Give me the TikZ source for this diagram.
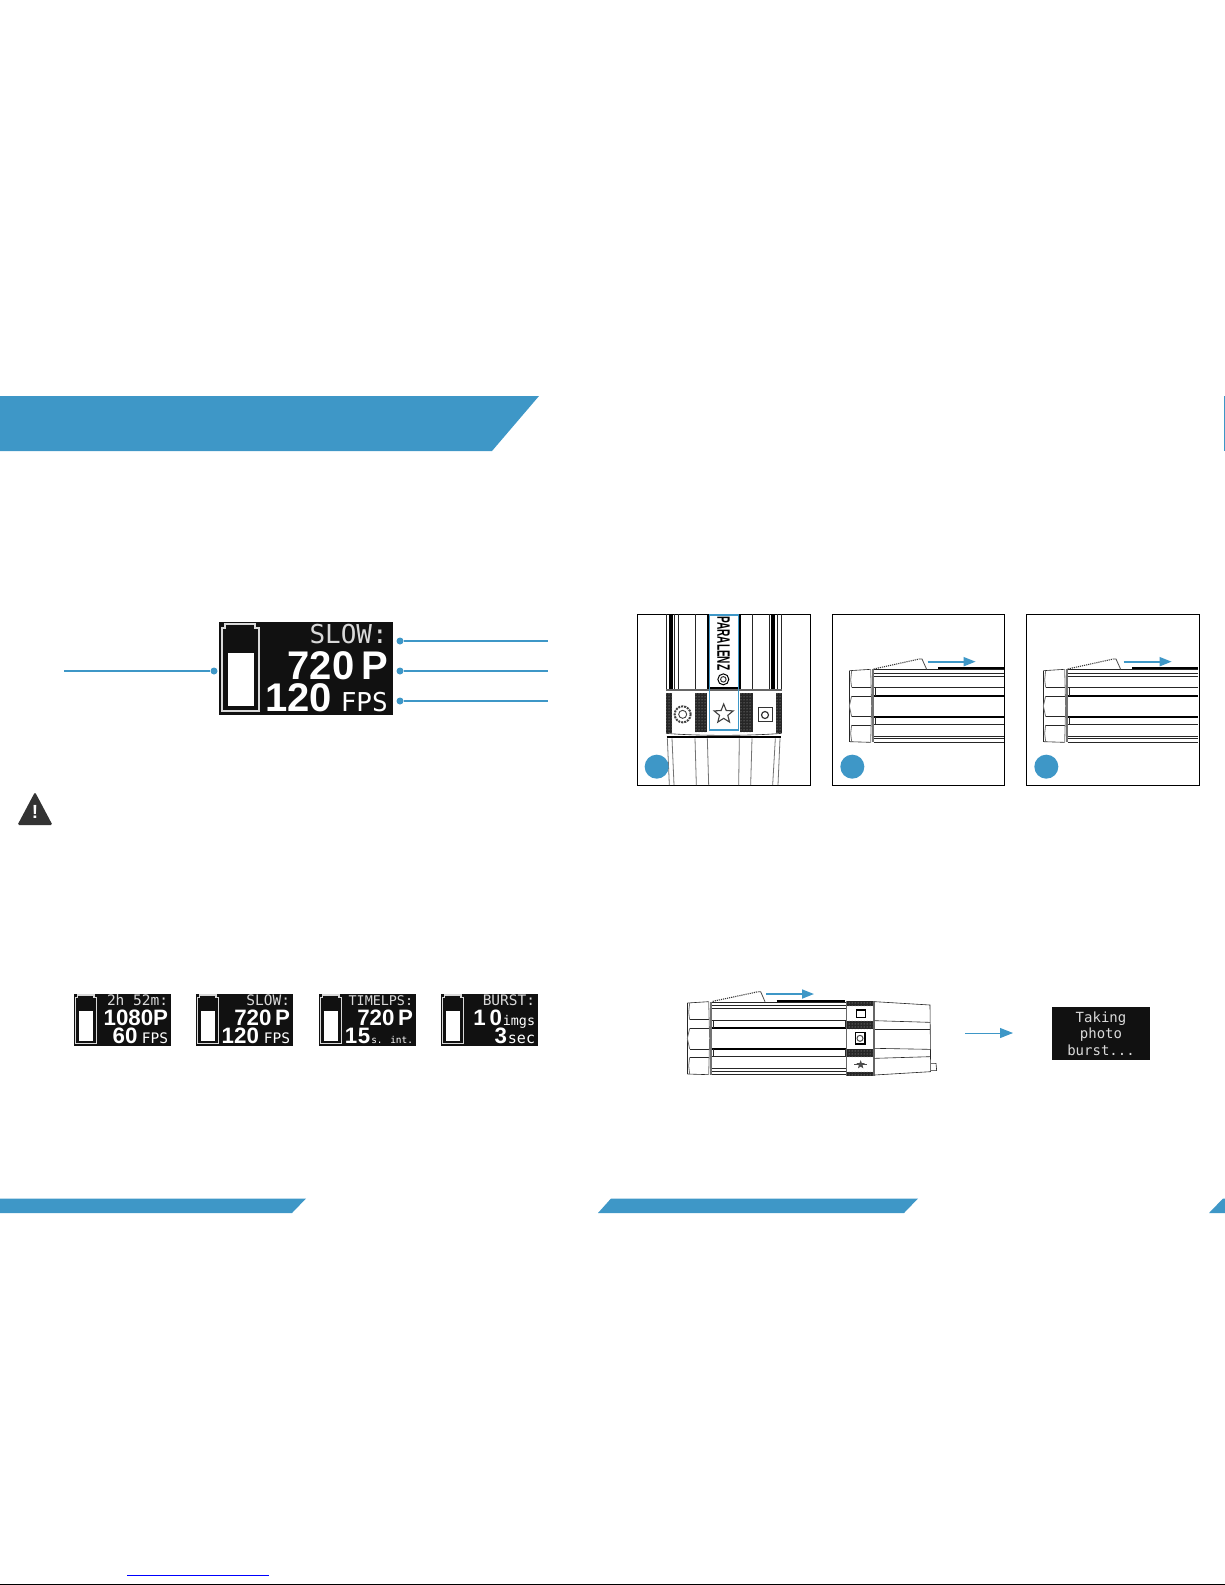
\documentclass[tikz,border=0pt]{standalone}
\usepackage{fontspec}
\usepackage{tikz}
\usetikzlibrary{arrows.meta, patterns, shapes.geometric}
\setmainfont{Liberation Sans}
\newfontfamily\lcdbold{Liberation Sans}[BoldFont=* Bold]
\newfontfamily\lcdmono{DejaVu Sans Mono}
\definecolor{bandblue}{HTML}{3E97C7}
\definecolor{lcdblack}{HTML}{111111}
\tikzset{
  band/.style={fill=bandblue, draw=none},
  leader/.style={draw=bandblue, line width=1.2pt},
  leaderdot/.style={circle, fill=bandblue, inner sep=0pt, minimum size=7pt},
  flow/.style={draw=bandblue, line width=1pt, -{Triangle[length=13pt, width=10pt]}},
  slideflow/.style={draw=bandblue, line width=1.7pt, -{Triangle[length=12pt, width=9pt]}},
  panel/.style={draw=black, line width=1pt, fill=white},
  stepdot/.style={circle, fill=bandblue, inner sep=0pt, minimum size=24pt},
  hair/.style={draw=black!85, line width=0.6pt},
  greyhair/.style={draw=black!55, line width=0.8pt},
  heavy/.style={draw=black, line width=1.8pt},
  knurl/.style={fill=black!85, postaction={pattern=dots, pattern color=white!70!black}},
  lcdbox/.style={fill=lcdblack, draw=none},
  lcdtext/.style={text=white, inner sep=0pt, anchor=base east, text depth=0pt},
}
\newcommand{\bigtxt}[1]{{\lcdbold\bfseries\fontsize{40}{40}\selectfont #1}}
\newcommand{\thintxt}[1]{{\lcdmono\fontsize{26}{26}\selectfont #1}}
% screen: name, x, y, scale, top line, middle line, bottom line
\newcommand{\lcdscreen}[7]{
  \begin{scope}[shift={(#2,#3)}, scale=#4, transform shape]
    \fill[lcdbox] (0,0) rectangle (174,93);
    \draw[white!85!black, line width=1.3pt] (3,89) -- (3,6) -- (6,6) -- (6,2) -- (36,2) -- (36,6) -- (40,6) -- (40,89) -- cycle;
    \fill[white] (8.5,31) rectangle (34.5,84);
    \node[lcdtext, text=white!85!black] (#1top) at (169,21) {\thintxt{#5}};
    \node[lcdtext] (#1mid) at (169,57) {#6};
    \node[lcdtext] (#1low) at (169,89) {#7};
  \end{scope}
}
% screw cap of the camera, in 3x crop units
\newcommand{\capend}{
  \draw[hair] (658,212) -- (722,208);
  \draw[hair] (658,425) -- (722,427);
  \draw[hair] (658,212) -- (658,425);
  \draw[greyhair] (665,212) -- (662,240) -- (665,262);
  \draw[greyhair] (665,288) -- (658,318) -- (665,350);
  \draw[greyhair] (665,375) -- (662,400) -- (665,425);
  \draw[hair] (665,262) -- (722,262);
  \draw[hair] (665,288) -- (722,288);
  \draw[hair] (665,350) -- (722,350);
  \draw[hair] (665,375) -- (722,375);
  \draw[greyhair] (722,208) -- (725,318) -- (722,427);
  \draw[black!55, line width=1.2pt] (729,208) -- (729,427);
}
% side view of the camera, in 3x crop units
\newcommand{\sidebody}{
  \capend
  \foreach \yy in {208,220,228,262,373,408,415,427} {
    \draw[hair] (731,\yy) -- (1122,\yy);
  }
  \draw[heavy] (731,287) -- (1122,287);
  \draw[heavy] (731,350) -- (1122,350);
  \draw[hair] (735,262) -- (735,287);
  \draw[hair] (735,350) -- (735,373);
  \draw[black!80, line width=1.1pt, densely dotted] (731,207) -- (868,177);
  \draw[black!70, line width=0.8pt] (868,177) -- (876,177) -- (890,208);
  \draw[heavy] (925,205) -- (1122,205);
}
\begin{document}
\begin{tikzpicture}[x=1pt, y=-1pt]
  \useasboundingbox (0,0) rectangle (1225,1585);
  % page bands
  \fill[band] (0,396) -- (539,396) -- (492,451) -- (0,451) -- cycle;
  \fill[band] (0,1198.5) -- (306,1198.5) -- (292,1213) -- (0,1213) -- cycle;
  \fill[band] (611,1198.5) -- (918,1198.5) -- (904,1213) -- (598,1213) -- cycle;
  \fill[band] (1223,1198.5) -- (1225,1198.5) -- (1225,1213) -- (1209,1213) -- cycle;
  \draw[draw=bandblue, line width=1pt] (1224.5,396) -- (1224.5,451);
  % status screen and leaders
  \lcdscreen{main}{219}{622}{1}{SLOW:}{\bigtxt{720\,P}}{\bigtxt{120}\kern9pt\thintxt{FPS}}
  \node[leaderdot] (dotbatt) at (214,671) {};
  \node[leaderdot] (dotmode) at (400,641) {};
  \node[leaderdot] (dotres) at (400,671) {};
  \node[leaderdot] (dotfps) at (400,701) {};
  \coordinate (endbatt) at (64,671);
  \coordinate (endmode) at (548,641);
  \coordinate (endres) at (548,671);
  \coordinate (endfps) at (548,701);
  \draw[leader] (endbatt) -- (dotbatt);
  \draw[leader] (dotmode) -- (endmode);
  \draw[leader] (dotres) -- (endres);
  \draw[leader] (dotfps) -- (endfps);
  % warning sign
  \fill[black!80, rounded corners=1.5pt] (35,792) -- (52.5,825) -- (17.5,825) -- cycle;
  \node[text=white, inner sep=0pt, font=\bfseries\fontsize{19}{19}\selectfont] (warnmark) at (35,812) {!};
  % mode screens
  \lcdscreen{video}{74}{994}{0.5575}{2h 52m:}{\bigtxt{1080P}}{\bigtxt{60}\kern8pt\thintxt{FPS}}
  \lcdscreen{slow}{196}{994}{0.5575}{SLOW:}{\bigtxt{720\,P}}{\bigtxt{120}\kern9pt\thintxt{FPS}}
  \lcdscreen{lapse}{319}{994}{0.5575}{{\fontsize{24}{24}\selectfont TIMELPS:}}{\bigtxt{720\,P}}{\bigtxt{1\kern1pt5}\,{\lcdmono\fontsize{17}{17}\selectfont s. int.}}
  \lcdscreen{burst}{441}{994}{0.5575}{BURST:}{\bigtxt{1\,0}\,{\lcdmono\fontsize{24}{24}\selectfont imgs}}{\bigtxt{3}\,{\lcdmono\fontsize{27}{27}\selectfont sec}}
  % panel one, top view
  \draw[panel] (637,614) rectangle (810,785);
  \begin{scope}[shift={(630,600)}, scale=1/3]
    \foreach \xx in {110,133,146,195,366,418,442,455} {
      \draw[hair] (\xx,42) -- (\xx,268);
    }
    \draw[heavy] (121,42) -- (121,266);
    \draw[heavy] (127,42) -- (127,266);
    \draw[heavy] (427,42) -- (427,266);
    \draw[heavy] (433,42) -- (433,266);
    \draw[heavy] (234,42) -- (234,265) -- (331,265) -- (331,42);
    \node[rotate=-90, inner sep=0pt, font=\bfseries\fontsize{18}{18}\selectfont] (logo) at (281,130) {\scalebox{.56}[1]{PARALENZ}};
    \node[circle, draw=black, line width=1pt, minimum size=11pt, inner sep=0pt] (lens) at (280,238) {};
    \node[circle, draw=black!80, line width=1pt, minimum size=5.5pt, inner sep=0pt] (lenshub) at (280,238) {};
    \draw[black!60, line width=1.2pt] (108,270) -- (455,270);
    \fill[knurl] (108,280) rectangle (126,398);
    \fill[knurl] (195,280) rectangle (232,396);
    \fill[knurl] (330,280) rectangle (368,396);
    \fill[knurl] (438,280) rectangle (455,398);
    \draw[hair] (108,400) .. controls (200,408) and (360,408) .. (455,400);
    \draw[heavy] (110,410) -- (454,410);
    % button icons
    \node[circle, draw=black!75, line width=2pt, densely dotted, minimum size=16pt, inner sep=0pt] (gear) at (158,343) {};
    \node[circle, draw=black!75, line width=0.9pt, minimum size=8pt, inner sep=0pt] (gearhub) at (158,343) {};
    \node[star, star points=5, star point ratio=2.3, draw=black!75, line width=1.1pt, minimum size=20pt, inner sep=0pt] (favstar) at (281,342) {};
    \draw[black!80, line width=1.2pt] (385,323) rectangle (427,365);
    \node[circle, draw=black!80, line width=1.2pt, minimum size=7pt, inner sep=0pt] (camlens) at (405,345) {};
    % lower housing
    \draw[greyhair] (112,415) -- (118,555);
    \draw[greyhair] (126,415) -- (132,555);
    \draw[greyhair] (195,415) -- (199,555);
    \draw[greyhair] (232,415) -- (236,555);
    \draw[greyhair] (328,415) -- (326,555);
    \draw[greyhair] (366,415) -- (362,555);
    \draw[greyhair] (436,415) -- (428,555);
    \draw[greyhair] (450,415) -- (444,555);
    \draw[bandblue, line width=1.5pt] (238,45) rectangle (325,390);
    \node[stepdot] (stepone) at (80,500) {};
  \end{scope}
  % panel two, side view
  \draw[panel] (832,614) rectangle (1004,785);
  \begin{scope}[shift={(630,600)}, scale=1/3]
    \sidebody
    \node[stepdot] (steptwo) at (667,500) {};
    \coordinate (slidetwoa) at (893,185);
    \coordinate (slidetwob) at (1037,185);
    \draw[slideflow] (slidetwoa) -- (slidetwob);
  \end{scope}
  % panel three, side view
  \draw[panel] (1026,614) rectangle (1199,785);
  \begin{scope}[shift={(824,600)}, scale=1/3]
    \sidebody
    \node[stepdot] (stepthree) at (667,500) {};
    \coordinate (slidethreea) at (899,185);
    \coordinate (slidethreeb) at (1043,185);
    \draw[slideflow] (slidethreea) -- (slidethreeb);
  \end{scope}
  % camera lying on its side
  \begin{scope}[shift={(670,980)}, scale=1/3]
    \begin{scope}[shift={(-606,-143)}]
      \capend
    \end{scope}
    \foreach \yy in {66,76,85,120,230,264,274,284} {
      \draw[hair] (126,\yy) -- (528,\yy);
    }
    \draw[heavy] (126,144) -- (528,144);
    \draw[heavy] (126,206) -- (528,206);
    \draw[hair] (130,120) -- (130,144);
    \draw[hair] (130,206) -- (130,230);
    \draw[hair] (525,120) -- (525,144);
    \draw[hair] (525,206) -- (525,230);
    \draw[black!80, line width=1.1pt, densely dotted] (128,64) -- (265,35);
    \draw[black!70, line width=0.8pt] (265,35) -- (272,35) -- (285,65);
    \draw[heavy] (320,63) -- (526,63);
    % button strip
    \fill[knurl] (532,63) rectangle (610,78);
    \fill[knurl] (532,122) rectangle (610,147);
    \fill[knurl] (532,207) rectangle (610,232);
    \fill[knurl] (532,275) rectangle (610,288);
    \draw[black!60, line width=1.2pt] (530,63) -- (530,288);
    \draw[black!60, line width=1.2pt] (612,63) -- (612,288);
    \draw[black, line width=1.3pt] (560,90) rectangle (586,112);
    \draw[black, line width=1.3pt] (556,157) rectangle (585,192);
    \node[circle, draw=black!70, line width=1pt, minimum size=6pt, inner sep=0pt] (sidelens) at (570,175) {};
    \node[star, star points=5, star point ratio=2.3, fill=black!70, minimum size=9pt, inner sep=0pt] (sidestar) at (572,254) {};
    \draw[black!70, line width=0.7pt] (552,254) -- (592,254);
    % tapered end
    \draw[hair] (614,65) -- (780,75) -- (782,275) -- (614,285);
    \draw[hair] (614,122) -- (780,127);
    \draw[hair] (614,148) -- (780,148);
    \draw[hair] (614,205) -- (780,208);
    \draw[hair] (614,235) -- (780,230);
    \draw[hair] (783,250) -- (798,250) -- (800,272) -- (783,272);
    \coordinate (slideaa) at (288,42);
    \coordinate (slideab) at (432,42);
    \draw[slideflow] (slideaa) -- (slideab);
  \end{scope}
  % burst message
  \coordinate (msgfrom) at (965,1033);
  \node[lcdbox, minimum width=98pt, minimum height=53pt, inner sep=0pt] (msgbox) at (1101,1033.5) {};
  \node[text=white!85!black, align=center, inner sep=0pt, font=\lcdmono\fontsize{14}{16.5}\selectfont] (msgtext) at (msgbox) {Taking\\photo\\burst...};
  \coordinate (msgto) at (1013,1033);
  \draw[flow] (msgfrom) -- (msgto);
  % page foot
  \draw[blue, line width=1pt] (127,1575) -- (269,1575);
  \draw[black, line width=1.5pt] (0,1584.3) -- (1225,1584.3);
\end{tikzpicture}
\end{document}
